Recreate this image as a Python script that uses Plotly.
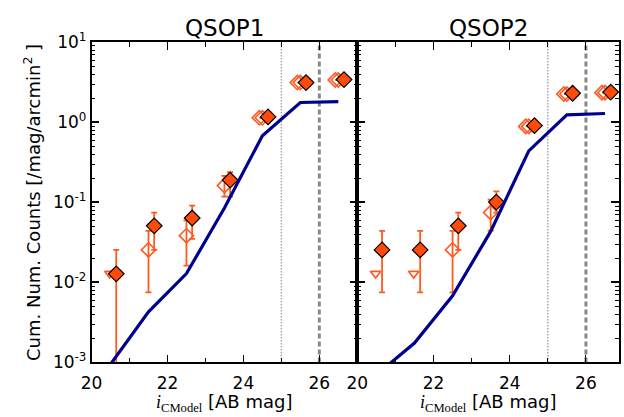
import plotly.graph_objects as go

# Magnitude bins (bin centres, AB mag)
BINS = [20.5, 21.5, 22.5, 23.5, 24.5, 25.5, 26.5]

# QSOP1 field
MODEL_1 = [0.00095, 0.0043, 0.0129, 0.085, 0.68, 1.77, 1.82]
FILLED_1 = [0.0128, 0.051, 0.0638, 0.19, 1.17, 3.14, 3.42]
FILLED_1_HI = [0.0255, 0.0747, 0.0913, 0.238, None, None, None]
FILLED_1_LO = [0.0003, 0.0255, 0.035, 0.118, None, None, None]
OPEN_1 = [None, 0.0255, 0.0384, 0.162, 1.14, 3.14, 3.38]
OPEN_1_HI = [None, 0.044, 0.0596, 0.215, None, None, None]
OPEN_1_LO = [None, 0.0075, 0.0162, 0.118, None, None, None]
OPEN_1_B = [None, None, None, None, 1.14, 3.14, 3.38]
UPPER_1 = [0.0129, None, None, None, None, None, None]

# QSOP2 field
MODEL_2 = [0.0007, 0.00175, 0.0068, 0.0434, 0.44, 1.24, 1.29]
FILLED_2 = [0.0255, 0.0255, 0.051, 0.101, 0.91, 2.31, 2.39]
FILLED_2_HI = [0.044, 0.044, 0.0747, 0.137, None, None, None]
FILLED_2_LO = [0.0075, 0.0075, 0.0255, 0.0747, None, None, None]
OPEN_2 = [None, None, 0.0255, 0.0747, 0.89, 2.26, 2.35]
OPEN_2_HI = [None, None, 0.044, 0.108, None, None, None]
OPEN_2_LO = [None, None, 0.0075, 0.0445, None, None, None]
OPEN_2_B = [None, None, None, None, 0.89, 2.26, 2.35]
UPPER_2 = [0.0129, 0.0129, None, None, None, None, None]

# Magnitude limits marked in each panel
LIMIT_DOTTED = 25.0
LIMIT_DASHED = 26.0

TITLES = ["QSOP1", "QSOP2"]
Y_TICKS = [1e-3, 1e-2, 1e-1, 1e0, 1e1]
Y_TICK_TEXT = ["10<sup>-3</sup>", "10<sup>-2</sup>", "10<sup>-1</sup>",
               "10<sup>0</sup>", "10<sup>1</sup>"]
X_TICKS = [20, 22, 24, 26]
X_MINOR = [21, 23, 25]

W, H = 624, 417
ORANGE = "#ff5a1f"
FILL = "#ff4a0a"
NAVY = "#00008f"
FONT = "DejaVu Sans"


def err(vals, hi, lo):
    up, dn = [], []
    for v, h, l in zip(vals, hi, lo):
        if v is None or h is None:
            up.append(0)
            dn.append(0)
        else:
            up.append(h - v)
            dn.append(v - l)
    return up, dn


def shift(off):
    return [b + off for b in BINS]


fig = go.Figure()

panels = [
    (MODEL_1, FILLED_1, FILLED_1_HI, FILLED_1_LO, OPEN_1, OPEN_1_HI, OPEN_1_LO, OPEN_1_B, UPPER_1),
    (MODEL_2, FILLED_2, FILLED_2_HI, FILLED_2_LO, OPEN_2, OPEN_2_HI, OPEN_2_LO, OPEN_2_B, UPPER_2),
]

for i, (model, filled, fhi, flo, opn, ohi, olo, opnb, upper) in enumerate(panels):
    xa = "x" if i == 0 else "x2"
    ya = "y" if i == 0 else "y2"

    yref = "y domain" if i == 0 else "y2 domain"
    fig.add_shape(type="line", xref=xa, yref=yref, x0=LIMIT_DOTTED, x1=LIMIT_DOTTED,
                  y0=0, y1=1, line=dict(color="#a8a8a8", width=1.5, dash="1.5px,1.5px"),
                  layer="below")
    fig.add_shape(type="line", xref=xa, yref=yref, x0=LIMIT_DASHED, x1=LIMIT_DASHED,
                  y0=0, y1=1, line=dict(color="#888888", width=3, dash="5px,3px"),
                  layer="below")

    # upper limits (open down-triangles)
    fig.add_trace(go.Scatter(
        x=shift(-0.02), y=upper, mode="markers", xaxis=xa, yaxis=ya,
        marker=dict(symbol="triangle-down-open", size=9, color=ORANGE,
                    line=dict(width=1.6, color=ORANGE)),
        showlegend=False))

    # second open-diamond set in the faint bins
    fig.add_trace(go.Scatter(
        x=shift(-0.08), y=opnb, mode="markers", xaxis=xa, yaxis=ya,
        marker=dict(symbol="diamond-open", size=11, color=ORANGE,
                    line=dict(width=1.6, color=ORANGE)),
        showlegend=False))

    up, dn = err(opn, ohi, olo)
    fig.add_trace(go.Scatter(
        x=shift(0.0), y=opn, mode="markers", xaxis=xa, yaxis=ya,
        marker=dict(symbol="diamond-open", size=11, color=ORANGE,
                    line=dict(width=1.6, color=ORANGE)),
        error_y=dict(type="data", symmetric=False, array=up, arrayminus=dn,
                     color=ORANGE, thickness=1.8, width=3),
        showlegend=False))

    up, dn = err(filled, fhi, flo)
    fig.add_trace(go.Scatter(
        x=shift(0.15), y=filled, mode="markers", xaxis=xa, yaxis=ya,
        marker=dict(symbol="diamond", size=12, color=FILL,
                    line=dict(width=1.2, color="black")),
        error_y=dict(type="data", symmetric=False, array=up, arrayminus=dn,
                     color=ORANGE, thickness=1.8, width=3),
        showlegend=False))

    # model prediction
    fig.add_trace(go.Scatter(
        x=BINS, y=model, mode="lines", xaxis=xa, yaxis=ya,
        line=dict(color=NAVY, width=3.2), showlegend=False))

y_minor = [m * 10 ** e for e in range(-3, 1) for m in range(2, 10)]

yd = [(H - 370) / H, (H - 32) / H]
xd1 = [82 / W, 352.5 / W]
xd2 = [352.5 / W, 619 / W]

common_x = dict(
    type="linear", tickvals=X_TICKS, ticks="inside", ticklen=8, tickwidth=1.2,
    tickcolor="black", showline=True, linecolor="black", linewidth=1.5,
    mirror="allticks", showgrid=False, zeroline=False, ticklabelstandoff=4,
    tickfont=dict(family=FONT, size=17, color="black"),
    minor=dict(tickvals=X_MINOR, ticks="inside", ticklen=5, tickwidth=1.2,
               tickcolor="black"),
)
common_y = dict(
    type="log", range=[-3, 1], tickvals=Y_TICKS, ticktext=Y_TICK_TEXT,
    ticks="inside", ticklen=8, tickwidth=1.5, tickcolor="black",
    showline=True, linecolor="black", linewidth=1.5, mirror="allticks",
    showgrid=False, zeroline=False, domain=yd,
    tickfont=dict(family=FONT, size=17, color="black"),
    minor=dict(tickvals=y_minor, ticks="inside", ticklen=4, tickwidth=1,
               tickcolor="black"),
)

fig.update_layout(
    width=W, height=H,
    margin=dict(l=0, r=0, t=0, b=0),
    paper_bgcolor="white", plot_bgcolor="white",
    xaxis=dict(common_x, domain=xd1, range=[20, 27], anchor="y"),
    xaxis2=dict(common_x, domain=xd2, range=[20, 26.87], anchor="y2"),
    yaxis=dict(common_y, anchor="x"),
    yaxis2=dict(common_y, anchor="x2", showticklabels=False),
)

serif = 'style="font-family:Liberation Serif"'
xlabel = (f'<span {serif}><i>i</i></span><sub><span {serif}>CModel</span></sub>'
          ' [AB mag]')
ann = []
for i, (t, xd) in enumerate(zip(TITLES, [xd1, xd2])):
    cx = (xd[0] + xd[1]) / 2
    ann.append(dict(text=t, x=cx, y=1 - 17 / H, xref="paper", yref="paper",
                    showarrow=False, xanchor="center", yanchor="middle",
                    font=dict(family=FONT, size=23, color="black")))
    ann.append(dict(text=xlabel, x=cx, y=0, xref="paper", yref="paper",
                    showarrow=False, xanchor="center", yanchor="middle",
                    yshift=4, font=dict(family=FONT, size=18, color="black")))
ann.append(dict(text="Cum. Num. Counts [/mag/arcmin<sup>2</sup> ]",
                x=22 / W, y=(yd[0] + yd[1]) / 2, xref="paper", yref="paper",
                showarrow=False, textangle=-90, xanchor="center", yanchor="middle",
                font=dict(family=FONT, size=18, color="black")))
fig.update_layout(annotations=ann)

fig.write_html("out.html")
